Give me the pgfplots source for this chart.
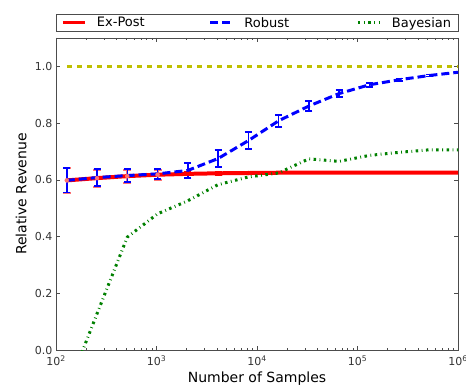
\documentclass[border=0pt]{standalone}
\usepackage{pgfplots}
\pgfplotsset{compat=1.18}
\usepackage{fontspec}
\setmainfont{DejaVu Sans}
\definecolor{mplblue}{rgb}{0,0,1}
\definecolor{mplgreen}{rgb}{0,0.5,0}
\definecolor{mplyellow}{rgb}{0.75,0.75,0}
\definecolor{mplred}{rgb}{1,0,0}
\begin{document}
\begin{tikzpicture}
\begin{axis}[
  name=ax,
  scale only axis,
  width=402pt, height=312pt,
  xmode=log,
  xmin=100, xmax=1000000,
  ymin=0, ymax=1.1,
  xtick={100,1000,10000,100000,1000000},
  xticklabels={10\textsuperscript{2},10\textsuperscript{3},10\textsuperscript{4},10\textsuperscript{5},10\textsuperscript{6}},
  ytick={0,0.2,0.4,0.6,0.8,1.0},
  yticklabel style={/pgf/number format/.cd, fixed, fixed zerofill, precision=1, assume math mode=true},
  ticklabel style={font=\fontsize{11}{13}\selectfont, text=black!80},
  xticklabel style={yshift=-2pt},
  xlabel={Number of Samples},
  ylabel={Relative Revenue},
  label style={font=\fontsize{14}{16}\selectfont},
  xlabel style={yshift=0pt},
  ylabel style={yshift=1.5pt},
  axis line style={black!70, line width=0.8pt},
  major tick length=4pt, minor tick length=2pt,
  tick style={black!70, line width=0.6pt},
  legend columns=3,
  legend style={at={(0,1)}, anchor=south west, yshift=6pt,
    draw=black!70, line width=0.8pt, font=\fontsize{13}{15}\selectfont,
    inner xsep=5pt, inner ysep=1pt,
    /tikz/every odd column/.append style={column sep=8.5pt},
    /tikz/every even column/.append style={column sep=0pt}},
  legend cell align=left,
  legend image code/.code={\draw[#1, line width=3pt] (0pt,0pt) -- (22pt,0pt);},
]
% Ex-Post
\addplot[mplred, line width=4pt, mark=none]
  coordinates {
  (128,0.598) (256,0.606) (512,0.613) (1024,0.618) (2048,0.621) (4096,0.623) (8192,0.624)
  (16384,0.625) (32768,0.625) (65536,0.625) (131072,0.625) (262144,0.625) (524288,0.625) (1048576,0.625)
  };
\addlegendentry{\makebox[110pt][l]{Ex-Post}}
\addplot[mplred!55, only marks, mark=none, forget plot,
  error bars/.cd, y dir=both, y explicit,
  error bar style={line width=2pt, mplred!55},
  error mark options={rotate=90, mark size=4pt, line width=2pt, mplred!55}]
  coordinates {
  (128,0.598) +- (0,0.043)
  (256,0.606) +- (0,0.030)
  (512,0.613) +- (0,0.023)
  (1024,0.618) +- (0,0.018)
  };
\addplot[mplred, only marks, mark=none, forget plot,
  error bars/.cd, y dir=both, y explicit,
  error bar style={line width=2pt, mplred},
  error mark options={rotate=90, mark size=3.5pt, line width=3pt, mplred}]
  coordinates {
  (2048,0.621) +- (0,0.004)
  (4096,0.623) +- (0,0.004)
  (8192,0.624) +- (0,0.003)
  };
% Robust
\addplot[mplblue, line width=3pt, dash pattern=on 8pt off 4pt, mark=none,
  error bars/.cd, y dir=both, y explicit,
  error bar style={line width=1.5pt, solid, mplblue},
  error mark options={rotate=90, mark size=3.5pt, line width=1.5pt, solid, mplblue}]
  coordinates {
  (128,0.598) +- (0,0.043)
  (256,0.608) +- (0,0.030)
  (512,0.615) +- (0,0.023)
  (1024,0.621) +- (0,0.018)
  (2048,0.633) +- (0,0.027)
  (4096,0.675) +- (0,0.030)
  (8192,0.738) +- (0,0.030)
  (16384,0.808) +- (0,0.021)
  (32768,0.860) +- (0,0.018)
  (65536,0.904) +- (0,0.012)
  (131072,0.935) +- (0,0.007)
  (262144,0.953) +- (0,0.005)
  (524288,0.968) +- (0,0.003)
  (1048576,0.980) +- (0,0.002)
  };
\addlegendentry{\makebox[110pt][l]{Robust}}
% Bayesian
\addplot[mplgreen, line width=3pt, dash pattern=on 2.5pt off 3.5pt on 0.8pt off 3.5pt, mark=none]
  coordinates {
  (128,-0.145)
  (256,0.128)
  (512,0.398)
  (1024,0.480)
  (2048,0.526)
  (4096,0.583)
  (8192,0.610)
  (16384,0.624)
  (32768,0.674)
  (65536,0.665)
  (131072,0.686)
  (262144,0.697)
  (524288,0.706)
  (1048576,0.706)
  };
\addlegendentry{Bayesian}
% Upper bound
\addplot[mplyellow, line width=3pt, dash pattern=on 5pt off 5pt, mark=none, forget plot]
  coordinates {
  (128,1.0) (256,1.0) (512,1.0) (1024,1.0) (2048,1.0) (4096,1.0) (8192,1.0)
  (16384,1.0) (32768,1.0) (65536,1.0) (131072,1.0) (262144,1.0) (524288,1.0) (1048576,1.0)
  };
\end{axis}
\pgfresetboundingbox
\path ([xshift=-56pt,yshift=-35pt]ax.south west) rectangle ([xshift=8pt,yshift=38pt]ax.north east);
\end{tikzpicture}
\end{document}
